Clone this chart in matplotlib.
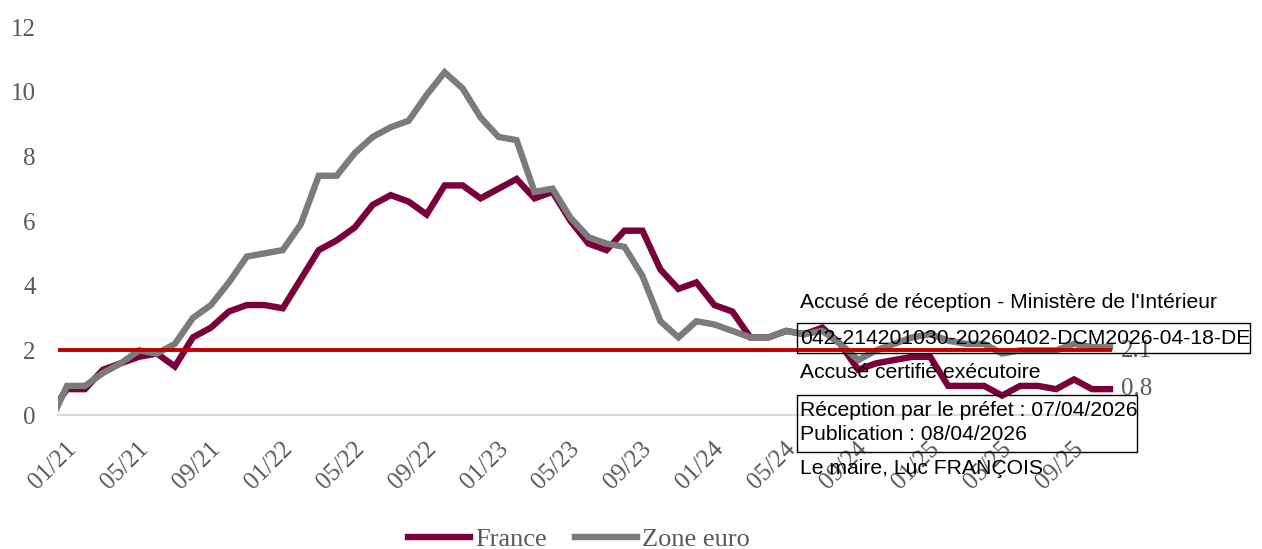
import matplotlib
matplotlib.use("Agg")
import matplotlib.pyplot as plt
from matplotlib.patches import Rectangle
import matplotlib.transforms as mtransforms

# Monthly HICP inflation (%), 12/20 .. 11/25
months = ["12/20",
          "01/21", "02/21", "03/21", "04/21", "05/21", "06/21", "07/21", "08/21", "09/21", "10/21", "11/21", "12/21",
          "01/22", "02/22", "03/22", "04/22", "05/22", "06/22", "07/22", "08/22", "09/22", "10/22", "11/22", "12/22",
          "01/23", "02/23", "03/23", "04/23", "05/23", "06/23", "07/23", "08/23", "09/23", "10/23", "11/23", "12/23",
          "01/24", "02/24", "03/24", "04/24", "05/24", "06/24", "07/24", "08/24", "09/24", "10/24", "11/24", "12/24",
          "01/25", "02/25", "03/25", "04/25", "05/25", "06/25", "07/25", "08/25", "09/25", "10/25", "11/25"]

france = [0.0,
          0.8, 0.8, 1.4, 1.6, 1.8, 1.9, 1.5, 2.4, 2.7, 3.2, 3.4, 3.4,
          3.3, 4.2, 5.1, 5.4, 5.8, 6.5, 6.8, 6.6, 6.2, 7.1, 7.1, 6.7,
          7.0, 7.3, 6.7, 6.9, 6.0, 5.3, 5.1, 5.7, 5.7, 4.5, 3.9, 4.1,
          3.4, 3.2, 2.4, 2.4, 2.6, 2.5, 2.7, 2.2, 1.4, 1.6, 1.7, 1.8,
          1.8, 0.9, 0.9, 0.9, 0.6, 0.9, 0.9, 0.8, 1.1, 0.8, 0.8]

zone_euro = [-0.3,
             0.9, 0.9, 1.3, 1.6, 2.0, 1.9, 2.2, 3.0, 3.4, 4.1, 4.9, 5.0,
             5.1, 5.9, 7.4, 7.4, 8.1, 8.6, 8.9, 9.1, 9.9, 10.6, 10.1, 9.2,
             8.6, 8.5, 6.9, 7.0, 6.1, 5.5, 5.3, 5.2, 4.3, 2.9, 2.4, 2.9,
             2.8, 2.6, 2.4, 2.4, 2.6, 2.5, 2.6, 2.2, 1.7, 2.0, 2.2, 2.4,
             2.5, 2.3, 2.2, 2.2, 1.9, 2.0, 2.0, 2.0, 2.2, 2.1, 2.1]

target = [2.0] * len(months)

tick_labels = ["01/21", "05/21", "09/21", "01/22", "05/22", "09/22", "01/23", "05/23",
               "09/23", "01/24", "05/24", "09/24", "01/25", "05/25", "09/25"]
y_ticks = [0, 2, 4, 6, 8, 10, 12]

series_labels = ["France", "Zone euro"]
stamp_title = "Accusé de réception - Ministère de l'Intérieur"
stamp_id = "042-214201030-20260402-DCM2026-04-18-DE"
stamp_exec = "Accusé certifié exécutoire"
stamp_line1 = "Réception par le préfet : 07/04/2026"
stamp_line2 = "Publication : 08/04/2026"
stamp_sign = "Le maire, Luc FRANÇOIS"

W, H = 1262, 549
fig = plt.figure(figsize=(W / 100, H / 100), dpi=100)

def fx(px):
    return px / W

def fy(py):
    return 1 - py / H

left_px, right_px, top_px, bottom_px = 58, 1119, 27, 415
ax = fig.add_axes([fx(left_px), fy(bottom_px), fx(right_px - left_px), (bottom_px - top_px) / H])

x = list(range(len(months)))
FR_COL = "#7A003C"
EU_COL = "#7B7B7B"
TXT_COL = "#595959"
SERIF = ["Liberation Serif", "DejaVu Serif"]
SANS = ["Liberation Sans", "DejaVu Sans"]
TICK_FS = 18

ax.plot(x, france, color=FR_COL, lw=4.6, solid_joinstyle="miter", label=series_labels[0], zorder=3)
ax.plot(x, zone_euro, color=EU_COL, lw=4.6, solid_joinstyle="miter", label=series_labels[1], zorder=4)
ax.plot(x, target, color="#C00000", lw=2.8, zorder=5)

ax.set_xlim(0.5, len(months) - 0.5)
ax.set_ylim(0, 12)

for s in ["top", "right", "left"]:
    ax.spines[s].set_visible(False)
ax.spines["bottom"].set_color("#D9D9D9")
ax.spines["bottom"].set_linewidth(1.5)
ax.spines["bottom"].set_zorder(1)

ax.set_yticks(y_ticks)
ax.set_yticklabels([str(v) for v in y_ticks], fontsize=TICK_FS, color=TXT_COL, family=SERIF)
ax.tick_params(axis="y", length=0, pad=16)

ax.set_xticks([months.index(t) for t in tick_labels])
ax.set_xticklabels(tick_labels, fontsize=TICK_FS, color=TXT_COL, family=SERIF,
                   rotation=45, ha="right", va="center", rotation_mode="anchor")
ax.tick_params(axis="x", length=0, pad=22)
offset = mtransforms.ScaledTranslation(6 / 100, 0, fig.dpi_scale_trans)
for lab in ax.get_xticklabels():
    lab.set_transform(lab.get_transform() + offset)

# end labels
ax.annotate(f"{zone_euro[-1]:.1f}", xy=(x[-1], zone_euro[-1]), xytext=(8, -3),
            textcoords="offset points", fontsize=TICK_FS, color=TXT_COL, family=SERIF,
            va="center", ha="left", annotation_clip=False)
ax.annotate(f"{france[-1]:.1f}", xy=(x[-1], france[-1]), xytext=(8, 0),
            textcoords="offset points", fontsize=TICK_FS, color=TXT_COL, family=SERIF,
            va="center", ha="left", annotation_clip=False)

leg = fig.legend(loc="center", bbox_to_anchor=(fx(579), fy(539)), ncol=2, frameon=False,
                 handlelength=2.35, handletextpad=0.2, columnspacing=1.05,
                 prop={"family": SERIF, "size": 19})
for t in leg.get_texts():
    t.set_color(TXT_COL)

# stamp overlay
fs = 15.2
fig.text(fx(800), fy(302), stamp_title, fontsize=fs, family=SANS, color="black", va="center", ha="left")
fig.text(fx(800), fy(339), stamp_id, fontsize=fs, family=SANS, color="black", va="center", ha="left")
fig.add_artist(Rectangle((fx(797), fy(353)), fx(1250 - 797), (353 - 323) / H,
                         transform=fig.transFigure, fill=False, ec="black", lw=1.0))
fig.text(fx(800), fy(373), stamp_exec, fontsize=fs, family=SANS, color="black", va="center", ha="left")
fig.text(fx(800), fy(410), stamp_line1, fontsize=fs, family=SANS, color="black", va="center", ha="left")
fig.text(fx(800), fy(434), stamp_line2, fontsize=fs, family=SANS, color="black", va="center", ha="left")
fig.add_artist(Rectangle((fx(797), fy(452)), fx(1137 - 797), (452 - 395) / H,
                         transform=fig.transFigure, fill=False, ec="black", lw=1.0))
fig.text(fx(800), fy(468), stamp_sign, fontsize=fs, family=SANS, color="black", va="center", ha="left")

fig.savefig("out.png", dpi=100, facecolor="white")
